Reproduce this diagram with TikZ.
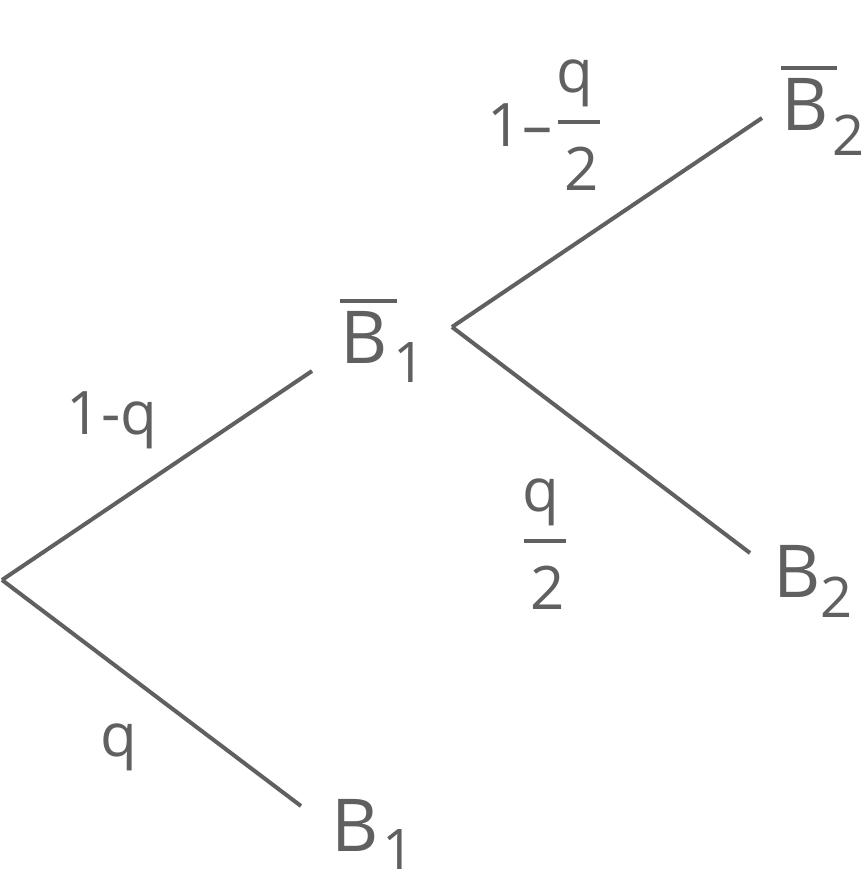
\documentclass[tikz,border=0pt]{standalone}
\usepackage{fontspec}
\setmainfont{Open Sans}
\definecolor{ink}{HTML}{606060}
\newcommand\bigf{\fontsize{73}{80}\selectfont}
\newcommand\subf{\fontsize{56}{60}\selectfont}
\newcommand\labf{\fontsize{60}{66}\selectfont}
\newcommand\ovbar[1]{\rlap{\rule[60pt]{#1}{4pt}}}
\newcommand\subsc[3]{\kern#1\raisebox{-#2}{\subf #3}}
\newcommand\fracqt{\vbox{\offinterlineskip\hbox to 42pt{\kern-1.5pt q\hfil}\kern13pt\hrule height4pt\kern23pt\hbox to 42pt{\kern6.5pt 2\hfil}}}
\tikzset{
  txt/.style={inner sep=0pt, anchor=base west, text=ink, font=\bigf},
  lab/.style={inner sep=0pt, anchor=base west, text=ink, font=\labf},
  branch/.style={draw=ink, line width=4pt}
}
\begin{document}
\begin{tikzpicture}[x=1pt,y=-1pt]
\fill[white] (0,0) rectangle (867,886);
\useasboundingbox (0,0) rectangle (867,886);
% points
\coordinate (r) at (2,580);
\coordinate (e1bar) at (312,371);
\coordinate (e1) at (301,806);
\coordinate (m) at (452,327);
\coordinate (e2bar) at (762,118);
\coordinate (e2) at (750,553);
% outcome nodes
\node[txt] (b1bar) at (340,363) {\ovbar{57pt}B\subsc{6pt}{19pt}{1}};
\node[txt] (b2bar) at (781,130) {\ovbar{56pt}B\subsc{4pt}{25pt}{2}};
\node[txt] (b2) at (773,597) {B\subsc{0pt}{20pt}{2}};
\node[txt] (b1) at (331,851) {B\subsc{4pt}{18pt}{1}};
% probability labels
\node[lab] (p1) at (66.5,434) {1-q};
\node[lab] (p2) at (100,756) {q};
\node[lab] (p3) at (524,609) {\fracqt};
\node[lab] (p4) at (487.5,146) {1–\kern6pt\lower44pt\fracqt};
% branches
\draw[branch] (r) -- (e1bar);
\draw[branch] (r) -- (e1);
\draw[branch] (m) -- (e2bar);
\draw[branch] (m) -- (e2);
\end{tikzpicture}
\end{document}
